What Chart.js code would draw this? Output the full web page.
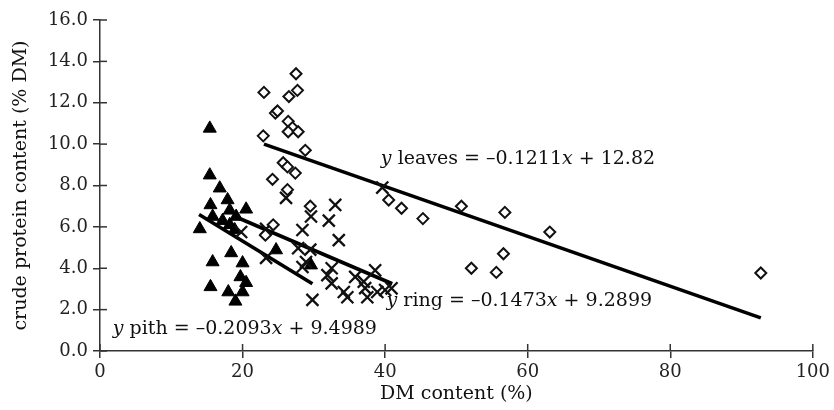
<!DOCTYPE html>
<html>
<head>
<meta charset="utf-8">
<script src="https://cdn.jsdelivr.net/npm/chart.js@4"></script>
<style>
  html, body { margin: 0; padding: 0; background: #fff; }
  #wrap { width: 834px; height: 410px; }
</style>
</head>
<body>
<div id="wrap"><canvas id="myChart" width="834" height="410"></canvas></div>
<script>
// leaves (open diamonds)
const leavesX = [23.0, 27.5, 27.7, 26.5, 24.6, 24.9, 26.4, 27.0, 26.4, 27.8, 22.9, 28.8, 25.7, 26.3, 27.4, 24.2, 26.3, 29.5, 24.3, 23.2, 40.5, 42.3, 45.3, 50.7, 56.8, 63.1, 52.1, 56.6, 55.6, 92.7];
const leavesY = [12.5, 13.4, 12.6, 12.3, 11.5, 11.6, 11.1, 10.8, 10.6, 10.6, 10.4, 9.7, 9.1, 8.9, 8.6, 8.3, 7.8, 7.0, 6.1, 5.6, 7.3, 6.9, 6.4, 7.0, 6.7, 5.75, 4.0, 4.7, 3.8, 3.77];
// ring (crosses)
const ringX = [26.1, 33.0, 29.6, 32.1, 28.4, 33.5, 23.3, 19.8, 27.8, 29.5, 23.3, 28.4, 28.9, 32.5, 31.9, 32.5, 34.2, 34.7, 35.8, 37.0, 37.2, 37.5, 38.6, 38.9, 40.0, 40.9, 29.8, 39.6];
const ringY = [7.4, 7.06, 6.5, 6.3, 5.85, 5.36, 5.9, 5.75, 4.97, 4.9, 4.5, 4.06, 4.3, 4.0, 3.67, 3.27, 2.85, 2.6, 3.58, 3.35, 3.04, 2.6, 3.9, 2.85, 2.95, 3.03, 2.47, 7.9];
// pith (filled triangles)
const pithX = [15.4, 15.4, 16.8, 17.9, 15.5, 18.2, 20.5, 15.8, 17.2, 18.2, 19.1, 14.0, 18.9, 18.4, 24.7, 15.8, 20.0, 19.7, 20.5, 15.5, 18.0, 20.0, 19.0, 29.6];
const pithY = [10.76, 8.5, 7.87, 7.3, 7.06, 6.8, 6.85, 6.5, 6.3, 6.1, 6.5, 5.9, 5.85, 4.74, 4.88, 4.3, 4.25, 3.58, 3.3, 3.1, 2.85, 2.85, 2.4, 4.15];
// regression line end points
const leavesLineX = [23.0, 92.7];
const leavesLineY = [10.0, 1.6];
const ringLineX = [18.6, 41.0];
const ringLineY = [6.55, 3.25];
const pithLineX = [13.9, 29.8];
const pithLineY = [6.6, 3.25];

const xTicks = [0, 20, 40, 60, 80, 100];
const yTicks = [0, 2, 4, 6, 8, 10, 12, 14, 16];

// equation labels
const eqLabels = [
  {x: 39.4, y: 9.3, name: ' leaves = \u20130.1211', tail: ' + 12.82'},
  {x: 40.2, y: 2.4, name: ' ring = \u20130.1473', tail: ' + 9.2899'},
  {x: 1.8, y: 1.05, name: ' pith = \u20130.2093', tail: ' + 9.4989'}
];

const FONT = 'DejaVu Serif';
const pts = (xs, ys) => xs.map((x, i) => ({x: x, y: ys[i]}));

const innerTicks = {
  id: 'innerTicks',
  afterDraw(chart) {
    const ctx = chart.ctx;
    const xs = chart.scales.x, ys = chart.scales.y;
    ctx.save();
    ctx.strokeStyle = '#333';
    ctx.lineWidth = 1.5;
    xTicks.forEach(v => {
      const px = xs.getPixelForValue(v);
      ctx.beginPath(); ctx.moveTo(px, xs.top); ctx.lineTo(px, xs.top - 7); ctx.stroke();
    });
    yTicks.forEach(v => {
      const py = ys.getPixelForValue(v);
      ctx.beginPath(); ctx.moveTo(ys.right, py); ctx.lineTo(ys.right + 7, py); ctx.stroke();
    });
    ctx.restore();
  }
};

const equations = {
  id: 'equations',
  afterDatasetsDraw(chart) {
    const ctx = chart.ctx;
    const xs = chart.scales.x, ys = chart.scales.y;
    ctx.save();
    ctx.fillStyle = '#111';
    ctx.textBaseline = 'middle';
    eqLabels.forEach(l => {
      let px = xs.getPixelForValue(l.x);
      const py = ys.getPixelForValue(l.y);
      const parts = [['italic', 'y'], ['normal', l.name], ['italic', 'x'], ['normal', l.tail]];
      parts.forEach(p => {
        ctx.font = p[0] + ' 19px "' + FONT + '"';
        ctx.fillText(p[1], px, py);
        px += ctx.measureText(p[1]).width;
      });
    });
    ctx.restore();
  }
};

const data = {
  datasets: [
    {
      label: 'leaves', data: pts(leavesX, leavesY),
      pointStyle: 'rectRot', pointRadius: 5.5, pointBorderWidth: 2,
      backgroundColor: '#fff', borderColor: '#111', showLine: false
    },
    {
      label: 'ring', data: pts(ringX, ringY),
      pointStyle: 'crossRot', pointRadius: 8.5, pointBorderWidth: 2.3,
      borderColor: '#111', backgroundColor: '#111', showLine: false
    },
    {
      label: 'pith', data: pts(pithX, pithY),
      pointStyle: 'triangle', pointRadius: 7.5, pointBorderWidth: 1,
      borderColor: '#000', backgroundColor: '#000', showLine: false
    },
    {
      type: 'line', label: 'leaves fit', data: pts(leavesLineX, leavesLineY),
      borderColor: '#000', borderWidth: 3.6, pointRadius: 0, fill: false
    },
    {
      type: 'line', label: 'ring fit', data: pts(ringLineX, ringLineY),
      borderColor: '#000', borderWidth: 3.6, pointRadius: 0, fill: false
    },
    {
      type: 'line', label: 'pith fit', data: pts(pithLineX, pithLineY),
      borderColor: '#000', borderWidth: 3.6, pointRadius: 0, fill: false
    }
  ]
};

const config = {
  type: 'scatter',
  data: data,
  options: {
    responsive: false,
    animation: false,
    events: [],
    layout: { padding: { top: 20, right: 17, bottom: 0, left: 0 } },
    plugins: { legend: { display: false }, tooltip: { enabled: false } },
    scales: {
      x: {
        type: 'linear', min: 0, max: 100,
        afterFit(scale) { scale.height = 59; },
        afterBuildTicks(scale) { scale.ticks = xTicks.map(v => ({value: v})); },
        border: { color: '#333', width: 1.5 },
        grid: { drawOnChartArea: false, drawTicks: true, tickLength: 7, color: '#333', lineWidth: 1.5 },
        ticks: { color: '#222', padding: 4, font: { family: FONT, size: 18 } },
        title: { display: true, text: 'DM content (%)', color: '#111', font: { family: FONT, size: 19 }, padding: { top: 0, bottom: 5 } }
      },
      y: {
        type: 'linear', min: 0, max: 16,
        afterFit(scale) { scale.width = 100; },
        afterBuildTicks(scale) { scale.ticks = yTicks.map(v => ({value: v})); },
        border: { color: '#333', width: 1.5 },
        grid: { drawOnChartArea: false, drawTicks: true, tickLength: 7, color: '#333', lineWidth: 1.5 },
        ticks: { color: '#222', padding: 5, font: { family: FONT, size: 18 }, callback: v => Number(v).toFixed(1) },
        title: { display: true, text: 'crude protein content (% DM)', color: '#111', font: { family: FONT, size: 19 }, padding: { top: 10, bottom: 0 } }
      }
    }
  },
  plugins: [innerTicks, equations]
};

var myChart = new Chart(document.getElementById('myChart'), config);
</script>
</body>
</html>
